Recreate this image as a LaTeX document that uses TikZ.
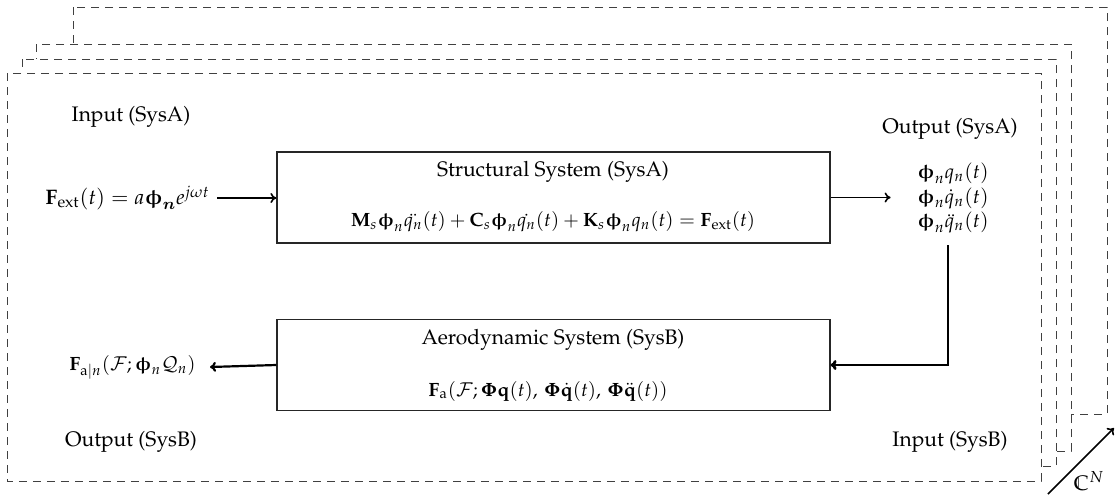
\documentclass[tikz,border=0pt]{standalone}
\usepackage[T1]{fontenc}
\usepackage{amsmath,amssymb,bm}
\usepackage{mathpazo}
\usepackage{upgreek}
\usetikzlibrary{arrows.meta}
\newcommand{\vphin}{\boldsymbol{\upphi}}
\begin{document}
\begin{tikzpicture}[x=0.5pt,y=-0.5pt,
  layer/.style={draw=black!75, fill=white, line width=0.5pt, dash pattern=on 4pt off 3pt},
  sysbox/.style={draw=black!85, line width=0.6pt, minimum width=276.5pt, minimum height=45.5pt, inner sep=0pt},
  lbl/.style={inner sep=0pt, font=\fontsize{10.5}{12}\selectfont},
  eqn/.style={inner sep=0pt, font=\fontsize{9.6}{12}\selectfont},
  flow/.style={-{To[length=3pt,width=5pt]}, line width=0.8pt},
  fb/.style={-{To[length=3pt,width=5pt]}, line width=1.4pt}]
\useasboundingbox (0,0) rectangle (1115,494);
% stacked layers (back to front)
\draw[layer] (73,7) rectangle (1107,414);
\draw[layer] (36,44) rectangle (1071,451);
\draw[layer] (22,59) rectangle (1056,466);
\draw[layer] (7,73) rectangle (1041,481);
% N arrow
\coordinate (cnA) at (1048,494);
\coordinate (cnB) at (1114,428);
\draw[flow] (cnA) -- (cnB);
\node[lbl] (cn) at (1089,481) {$\mathbb{C}^N$};
% systems
\node[sysbox] (sysA) at (553.5,197.5) {};
\node[sysbox] (sysB) at (553.5,365) {};
\node[lbl] (tA) at (553,172) {Structural System (SysA)};
\node[eqn] (eA) at (553,222) {$\mathbf{M}_s\vphin_n\ddot{q_n}(t)+\mathbf{C}_s\vphin_n\dot{q_n}(t)+\mathbf{K}_s\vphin_n q_n(t)=\mathbf{F}_{\mathrm{ext}}(t)$};
\node[lbl] (tB) at (553,340) {Aerodynamic System (SysB)};
\node[eqn] (eB) at (548,391) {$\mathbf{F}_{\mathrm{a}}(\mathcal{F};\boldsymbol{\Phi}\mathbf{q}(t),\,\boldsymbol{\Phi}\dot{\mathbf{q}}(t),\,\boldsymbol{\Phi}\ddot{\mathbf{q}}(t))$};
% side labels
\node[lbl] (inA) at (131,117) {Input (SysA)};
\node[lbl] (outAl) at (950,129) {Output (SysA)};
\node[lbl] (outBl) at (131,442) {Output (SysB)};
\node[lbl] (inBl) at (950,442) {Input (SysB)};
% input / outputs
\node[lbl, anchor=east] (fext) at (210,198) {$\mathbf{F}_{\mathrm{ext}}(t)=a\vphin_{\boldsymbol{n}}e^{j\omega t}$};
\node[eqn, anchor=west, align=left, font=\fontsize{10}{12.2}\selectfont] (outA) at (917,198) {$\vphin_n q_n(t)$\\$\vphin_n \dot{q}_n(t)$\\$\vphin_n \ddot{q}_n(t)$};
\node[eqn, anchor=east] (fa) at (196,367) {$\mathbf{F}_{\mathrm{a}|n}(\mathcal{F};\vphin_n\mathcal{Q}_n)$};
\coordinate (fbtop) at (948,245);
% connectors
\draw[flow] (fext.east) ++(7,0) -- (sysA.west |- fext.east);
\draw[flow] (sysA.east) -- ++(60,0);
\draw[fb] (fbtop) |- (sysB.east);
\draw[fb, line width=1.1pt] (sysB.west) -- ([xshift=7]fa.east);
\end{tikzpicture}
\end{document}
